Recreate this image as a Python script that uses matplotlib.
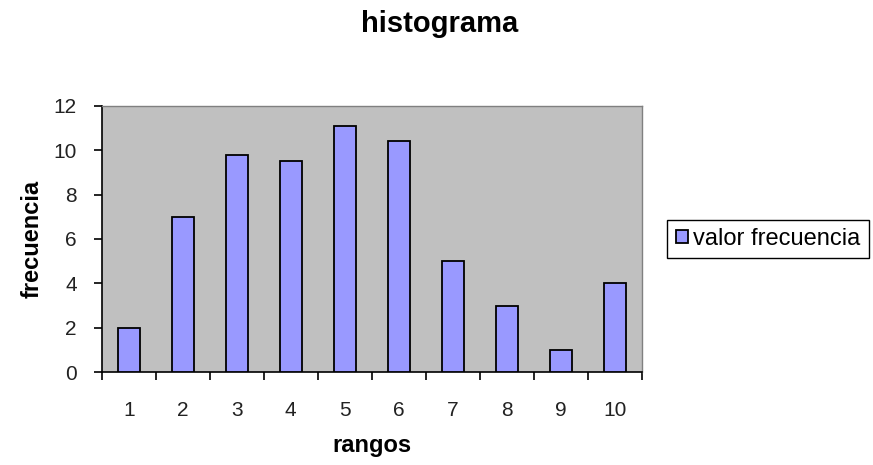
import numpy as np
from matplotlib import pyplot as plt

plt.rcParams['font.family'] = ['Liberation Sans', 'DejaVu Sans']

# data
rangos = [1, 2, 3, 4, 5, 6, 7, 8, 9, 10]
frecuencia = [2, 7, 9.8, 9.5, 11.1, 10.4, 5, 3, 1, 4]
y_ticks = [0, 2, 4, 6, 8, 10, 12]
serie_label = 'valor frecuencia'

fig = plt.figure(figsize=(8.73, 4.65), dpi=100)
ax = fig.add_axes([0.1165, 0.1994, 0.6185, 0.5733])
ax.set_facecolor('#C0C0C0')

ax.bar(rangos, frecuencia, width=0.41, color='#9999FF', edgecolor='black',
       linewidth=1.3, label=serie_label, zorder=3)

ax.set_xlim(0.5, 10.5)
ax.set_ylim(0, 12)

# labels on the categories, tick marks between them
ax.set_xticks(rangos)
ax.set_xticks(np.arange(0.5, 11, 1), minor=True)
ax.tick_params(axis='x', which='major', length=0, pad=21, labelsize=15)
ax.tick_params(axis='x', which='minor', length=6, width=1.2, direction='out')
ax.set_yticks(y_ticks)
ax.tick_params(axis='y', length=6, width=1.2, direction='out', pad=12, labelsize=15)
ax.tick_params(labelcolor='#222222')

for side in ['left', 'bottom']:
    ax.spines[side].set_color('black')
    ax.spines[side].set_linewidth(1.2)
for side in ['top', 'right']:
    ax.spines[side].set_color('#808080')
    ax.spines[side].set_linewidth(1)

ax.set_xlabel('rangos', fontsize=17, fontweight='bold', labelpad=10)
ax.set_ylabel('frecuencia', fontsize=17, fontweight='bold', labelpad=7)

fig.text(0.504, 0.931, 'histograma', fontsize=21, fontweight='bold',
         ha='center', va='baseline')

leg = fig.legend(loc='center', bbox_to_anchor=(0.880, 0.486), fontsize=17,
                 handlelength=0.5, handleheight=0.5, handletextpad=0.25,
                 fancybox=False, framealpha=1, borderpad=0.35)
leg.get_frame().set_edgecolor('black')
leg.get_frame().set_linewidth(1)

fig.savefig('out.png', dpi=100, facecolor='white')
plt.close(fig)
